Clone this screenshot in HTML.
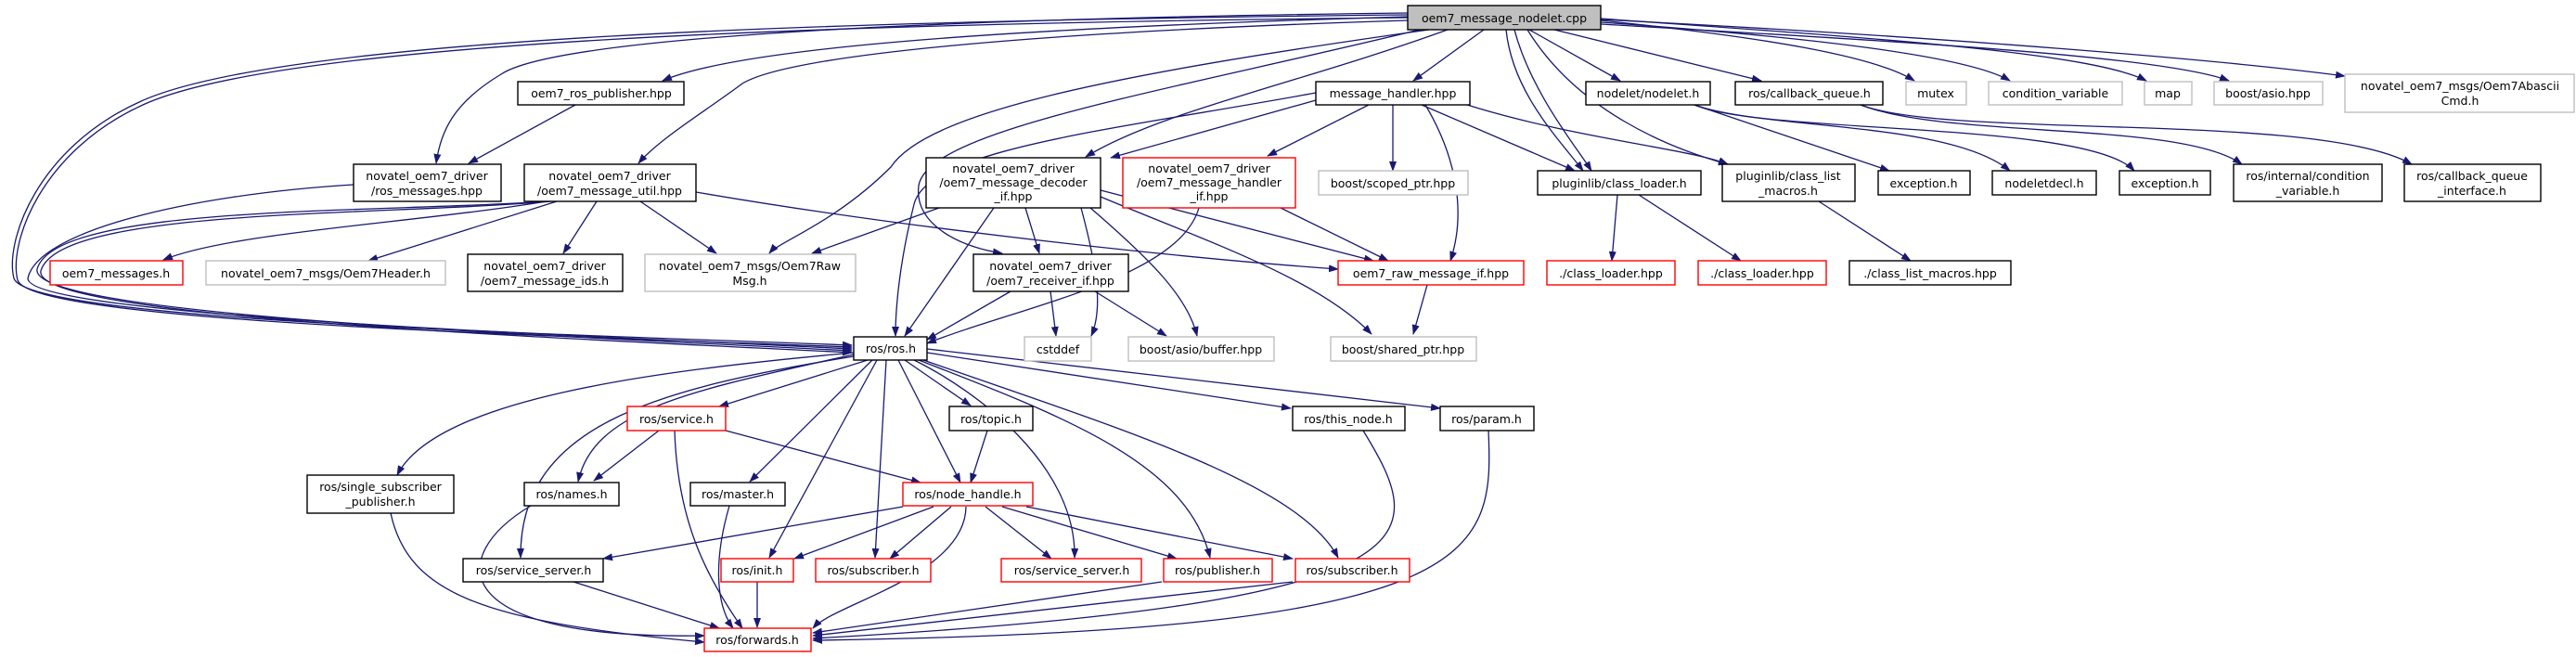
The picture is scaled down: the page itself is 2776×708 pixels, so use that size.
<!DOCTYPE html>
<html><head><meta charset="utf-8"><style>
html,body{margin:0;padding:0;background:#fff;}
svg{display:block;}
text{font-family:"DejaVu Sans","Liberation Sans",sans-serif;font-size:12.5px;fill:#000;text-anchor:middle;}
.e{fill:none;stroke:#191970;stroke-width:1.3;marker-end:url(#a);}
.b{fill:#fff;stroke:#000;stroke-width:1.4;}
.r{fill:#fff;stroke:#ff0000;stroke-width:1.4;}
.g{fill:#fff;stroke:#bfbfbf;stroke-width:1.4;}
</style></head><body>
<svg width="2776" height="708" viewBox="0 0 2776 708" xmlns="http://www.w3.org/2000/svg">
<defs><marker id="a" markerWidth="11" markerHeight="8" refX="10" refY="4" orient="auto" markerUnits="userSpaceOnUse"><path d="M0,0 L11,4 L0,8 z" fill="#191970"/></marker></defs>
<g>
<path class="e" d="M1517,18 C1100,30 800,50 714,87"/>
<path class="e" d="M1517,14 C1000,20 600,40 540,80 C490,110 475,140 470,176"/>
<path class="e" d="M1517,22 C1100,35 850,60 800,90 C760,120 710,150 688,176"/>
<path class="e" d="M1540,32 C1200,80 1000,120 960,180 C900,240 840,260 829,273"/>
<path class="e" d="M1560,32 C1400,90 1250,120 1170,169"/>
<path class="e" d="M1530,32 C1250,100 1000,140 990,200 C985,240 1030,265 1080,273"/>
<path class="e" d="M1517,16 C900,22 300,40 150,110 C40,160 5,260 15,300 C30,345 600,360 918,372"/>
<path class="e" d="M1517,19 C900,25 304,44 154,113 C44,163 9,262 19,302 C34,347 600,362 918,374"/>
<path class="e" d="M1599,32 L1523,87"/>
<path class="e" d="M1623,32 C1630,100 1680,150 1706,184"/>
<path class="e" d="M1632,32 C1650,100 1700,160 1715,184"/>
<path class="e" d="M1646,32 C1700,120 1800,160 1862,177"/>
<path class="e" d="M1648,32 L1746,87"/>
<path class="e" d="M1675,32 L1898,87"/>
<path class="e" d="M1725,22 C1900,40 2020,60 2063,87"/>
<path class="e" d="M1725,24 C1950,40 2120,60 2166,87"/>
<path class="e" d="M1725,20 C2000,40 2250,55 2313,87"/>
<path class="e" d="M1725,26 C2050,45 2330,60 2402,87"/>
<path class="e" d="M1725,21 C2100,40 2400,65 2527,82"/>
<path class="e" d="M1501,113 L1501,184"/>
<path class="e" d="M1532,113 L1697,184"/>
<path class="e" d="M1581,113 C1700,150 1820,160 1862,177"/>
<path class="e" d="M1536,113 C1570,170 1580,230 1563,281"/>
<path class="e" d="M1418,108 L1197,170"/>
<path class="e" d="M1475,113 L1366,168"/>
<path class="e" d="M1418,100 C1200,140 1000,160 985,220 C970,280 965,330 965,362"/>
<path class="e" d="M1826,113 L2036,184"/>
<path class="e" d="M1826,113 C1900,140 2100,130 2166,184"/>
<path class="e" d="M1826,113 C1900,145 2250,130 2300,184"/>
<path class="e" d="M2005,113 C2100,150 2350,130 2416,177"/>
<path class="e" d="M2005,113 C2100,150 2500,120 2599,177"/>
<path class="e" d="M1743,210 L1737,281"/>
<path class="e" d="M1766,210 L1876,281"/>
<path class="e" d="M1960,217 L2059,281"/>
<path class="e" d="M620,113 L505,176"/>
<path class="e" d="M381,199 C200,210 40,250 30,300 C30,340 600,360 918,376"/>
<path class="e" d="M589,217 C450,240 250,250 176,280"/>
<path class="e" d="M600,217 L397,281"/>
<path class="e" d="M643,217 L607,273"/>
<path class="e" d="M690,217 L772,273"/>
<path class="e" d="M750,207 C1000,250 1300,280 1442,290"/>
<path class="e" d="M590,217 C400,230 60,220 40,290 C30,340 600,362 918,378"/>
<path class="e" d="M594,217 C404,233 64,224 44,292 C34,342 600,364 918,380"/>
<path class="e" d="M1012,224 L875,273"/>
<path class="e" d="M1071,224 L975,362"/>
<path class="e" d="M1105,224 L1120,273"/>
<path class="e" d="M1165,224 C1180,280 1190,330 1176,362"/>
<path class="e" d="M1175,224 C1240,280 1280,320 1290,362"/>
<path class="e" d="M1186,205 L1480,281"/>
<path class="e" d="M1186,212 C1300,260 1420,300 1478,360"/>
<path class="e" d="M1292,224 C1270,300 1100,330 999,370"/>
<path class="e" d="M1380,224 L1496,281"/>
<path class="e" d="M1089,314 L999,366"/>
<path class="e" d="M1132,314 L1138,362"/>
<path class="e" d="M1180,314 L1257,362"/>
<path class="e" d="M1538,307 L1523,360"/>
<path class="e" d="M920,380 C700,400 470,430 428,512"/>
<path class="e" d="M920,382 C750,420 640,440 623,519"/>
<path class="e" d="M920,384 C700,420 560,460 561,601"/>
<path class="e" d="M935,388 L775,438"/>
<path class="e" d="M940,388 L808,519"/>
<path class="e" d="M945,388 L829,601"/>
<path class="e" d="M955,388 L943,601"/>
<path class="e" d="M968,388 L1035,520"/>
<path class="e" d="M975,388 L1046,437"/>
<path class="e" d="M985,388 C1050,420 1160,500 1158,601"/>
<path class="e" d="M990,388 C1150,450 1280,500 1304,601"/>
<path class="e" d="M995,388 C1200,460 1400,520 1442,601"/>
<path class="e" d="M999,380 L1391,440"/>
<path class="e" d="M999,376 L1552,440"/>
<path class="e" d="M710,464 L640,518"/>
<path class="e" d="M782,464 L992,520"/>
<path class="e" d="M727,464 C730,560 760,620 800,677"/>
<path class="e" d="M1064,464 L1046,520"/>
<path class="e" d="M572,545 C480,600 480,690 759,685"/>
<path class="e" d="M786,545 C770,600 770,650 790,677"/>
<path class="e" d="M421,553 C440,640 520,670 759,692"/>
<path class="e" d="M618,627 L775,677"/>
<path class="e" d="M816,627 L816,676"/>
<path class="e" d="M973,546 L650,602"/>
<path class="e" d="M1006,546 L856,602"/>
<path class="e" d="M1025,546 L959,602"/>
<path class="e" d="M1062,546 L1133,602"/>
<path class="e" d="M1080,546 L1268,602"/>
<path class="e" d="M1106,546 L1393,602"/>
<path class="e" d="M1041,546 C1040,620 900,650 876,677"/>
<path class="e" d="M1252,627 L876,682"/>
<path class="e" d="M1393,627 L876,685"/>
<path class="e" d="M1469,464 C1540,580 1560,650 876,688"/>
<path class="e" d="M1604,464 C1610,600 1600,680 876,690"/>
</g>
<g>
<rect x="1517" y="6" width="208" height="26" fill="#bfbfbf" stroke="#000" stroke-width="1.4"/><text x="1621" y="24">oem7_message_nodelet.cpp</text>
<rect class="b" x="1418" y="88" width="166" height="25"/><text x="1501" y="105">message_handler.hpp</text>
<rect class="b" x="1709" y="88" width="134" height="25"/><text x="1776" y="105">nodelet/nodelet.h</text>
<rect class="b" x="1870" y="88" width="159" height="25"/><text x="1950" y="105">ros/callback_queue.h</text>
<rect class="g" x="2054" y="88" width="65" height="25"/><text x="2086" y="105">mutex</text>
<rect class="g" x="2143" y="88" width="144" height="25"/><text x="2215" y="105">condition_variable</text>
<rect class="g" x="2311" y="88" width="51" height="25"/><text x="2336" y="105">map</text>
<rect class="g" x="2386" y="88" width="117" height="25"/><text x="2444" y="105">boost/asio.hpp</text>
<rect class="g" x="2527" y="80" width="247" height="41"/><text x="2651" y="97">novatel_oem7_msgs/Oem7Abascii</text><text x="2651" y="113">Cmd.h</text>
<rect class="b" x="558" y="88" width="179" height="25"/><text x="648" y="105">oem7_ros_publisher.hpp</text>
<rect class="b" x="381" y="177" width="159" height="40"/><text x="460" y="194">novatel_oem7_driver</text><text x="460" y="210">/ros_messages.hpp</text>
<rect class="b" x="565" y="177" width="185" height="40"/><text x="657" y="194">novatel_oem7_driver</text><text x="657" y="210">/oem7_message_util.hpp</text>
<rect class="b" x="998" y="170" width="188" height="54"/><text x="1092" y="186">novatel_oem7_driver</text><text x="1092" y="201">/oem7_message_decoder</text><text x="1092" y="216">_if.hpp</text>
<rect class="r" x="1210" y="170" width="186" height="54"/><text x="1303" y="186">novatel_oem7_driver</text><text x="1303" y="201">/oem7_message_handler</text><text x="1303" y="216">_if.hpp</text>
<rect class="g" x="1421" y="184" width="161" height="26"/><text x="1501" y="202">boost/scoped_ptr.hpp</text>
<rect class="b" x="1657" y="184" width="176" height="26"/><text x="1745" y="202">pluginlib/class_loader.h</text>
<rect class="b" x="1856" y="177" width="143" height="40"/><text x="1927" y="194">pluginlib/class_list</text><text x="1927" y="210">_macros.h</text>
<rect class="b" x="2024" y="184" width="99" height="26"/><text x="2073" y="202">exception.h</text>
<rect class="b" x="2147" y="184" width="112" height="26"/><text x="2203" y="202">nodeletdecl.h</text>
<rect class="b" x="2284" y="184" width="98" height="26"/><text x="2333" y="202">exception.h</text>
<rect class="b" x="2407" y="177" width="160" height="40"/><text x="2487" y="194">ros/internal/condition</text><text x="2487" y="210">_variable.h</text>
<rect class="b" x="2591" y="177" width="147" height="40"/><text x="2664" y="194">ros/callback_queue</text><text x="2664" y="210">_interface.h</text>
<rect class="r" x="54" y="281" width="143" height="26"/><text x="125" y="299">oem7_messages.h</text>
<rect class="g" x="222" y="281" width="258" height="26"/><text x="351" y="299">novatel_oem7_msgs/Oem7Header.h</text>
<rect class="b" x="504" y="274" width="167" height="40"/><text x="587" y="291">novatel_oem7_driver</text><text x="587" y="307">/oem7_message_ids.h</text>
<rect class="g" x="695" y="274" width="227" height="40"/><text x="808" y="291">novatel_oem7_msgs/Oem7Raw</text><text x="808" y="307">Msg.h</text>
<rect class="b" x="1049" y="274" width="167" height="40"/><text x="1132" y="291">novatel_oem7_driver</text><text x="1132" y="307">/oem7_receiver_if.hpp</text>
<rect class="r" x="1442" y="281" width="200" height="26"/><text x="1542" y="299">oem7_raw_message_if.hpp</text>
<rect class="r" x="1667" y="281" width="138" height="26"/><text x="1736" y="299">./class_loader.hpp</text>
<rect class="r" x="1830" y="281" width="138" height="26"/><text x="1899" y="299">./class_loader.hpp</text>
<rect class="b" x="1993" y="281" width="174" height="26"/><text x="2080" y="299">./class_list_macros.hpp</text>
<rect class="b" x="920" y="363" width="79" height="25"/><text x="960" y="380">ros/ros.h</text>
<rect class="g" x="1104" y="363" width="72" height="26"/><text x="1140" y="381">cstddef</text>
<rect class="g" x="1216" y="363" width="157" height="26"/><text x="1294" y="381">boost/asio/buffer.hpp</text>
<rect class="g" x="1434" y="363" width="157" height="26"/><text x="1512" y="381">boost/shared_ptr.hpp</text>
<rect class="r" x="676" y="438" width="106" height="26"/><text x="729" y="456">ros/service.h</text>
<rect class="b" x="1023" y="438" width="90" height="26"/><text x="1068" y="456">ros/topic.h</text>
<rect class="b" x="1393" y="438" width="121" height="26"/><text x="1453" y="456">ros/this_node.h</text>
<rect class="b" x="1552" y="438" width="101" height="26"/><text x="1602" y="456">ros/param.h</text>
<rect class="b" x="331" y="512" width="158" height="41"/><text x="410" y="529">ros/single_subscriber</text><text x="410" y="545">_publisher.h</text>
<rect class="b" x="565" y="520" width="102" height="25"/><text x="616" y="537">ros/names.h</text>
<rect class="b" x="744" y="520" width="102" height="25"/><text x="795" y="537">ros/master.h</text>
<rect class="r" x="973" y="520" width="140" height="25"/><text x="1043" y="537">ros/node_handle.h</text>
<rect class="b" x="499" y="602" width="151" height="25"/><text x="575" y="619">ros/service_server.h</text>
<rect class="r" x="777" y="602" width="78" height="25"/><text x="816" y="619">ros/init.h</text>
<rect class="r" x="879" y="602" width="124" height="25"/><text x="941" y="619">ros/subscriber.h</text>
<rect class="r" x="1079" y="602" width="151" height="25"/><text x="1155" y="619">ros/service_server.h</text>
<rect class="r" x="1254" y="602" width="117" height="25"/><text x="1312" y="619">ros/publisher.h</text>
<rect class="r" x="1396" y="602" width="123" height="25"/><text x="1457" y="619">ros/subscriber.h</text>
<rect class="r" x="759" y="677" width="115" height="25"/><text x="816" y="694">ros/forwards.h</text>
</g>
</svg>
</body></html>
